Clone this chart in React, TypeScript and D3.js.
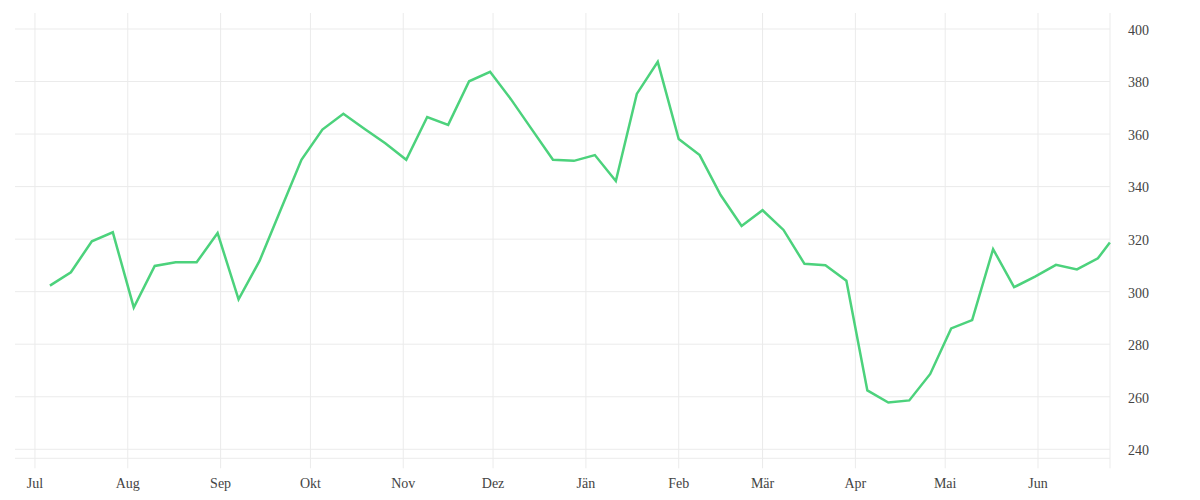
import React from "react";
import * as d3 from "d3";

// weekly closing values, Jul 2018 - Jun 2019
const dates = [
  "2018-07-06", "2018-07-13", "2018-07-20", "2018-07-27", "2018-08-03", "2018-08-10",
  "2018-08-17", "2018-08-24", "2018-08-31", "2018-09-07", "2018-09-14", "2018-09-21",
  "2018-09-28", "2018-10-05", "2018-10-12", "2018-10-19", "2018-10-26", "2018-11-02",
  "2018-11-09", "2018-11-16", "2018-11-23", "2018-11-30", "2018-12-07", "2018-12-14",
  "2018-12-21", "2018-12-28", "2019-01-04", "2019-01-11", "2019-01-18", "2019-01-25",
  "2019-02-01", "2019-02-08", "2019-02-15", "2019-02-22", "2019-03-01", "2019-03-08",
  "2019-03-15", "2019-03-22", "2019-03-29", "2019-04-05", "2019-04-12", "2019-04-19",
  "2019-04-26", "2019-05-03", "2019-05-10", "2019-05-17", "2019-05-24", "2019-05-31",
  "2019-06-07", "2019-06-14", "2019-06-21", "2019-06-25",
];

const prices = [
  302.3, 307.4, 319.2, 322.6, 294.0, 309.8, 311.2, 311.2, 322.3, 297.1, 311.7, 331.0,
  350.2, 361.7, 367.7, 362.0, 356.5, 350.2, 366.5, 363.5, 380.1, 383.7, 373.2, 361.7,
  350.2, 349.8, 352.0, 342.1, 375.3, 387.5, 358.1, 352.0, 336.8, 325.0, 331.0, 323.5,
  310.6, 310.1, 304.2, 262.4, 257.8, 258.6, 268.7, 286.0, 289.2, 316.2, 301.7, 305.7,
  310.2, 308.5, 312.7, 318.7,
];

const monthLabels = ["Jul", "Aug", "Sep", "Okt", "Nov", "Dez", "Jän", "Feb", "Mär", "Apr", "Mai", "Jun"];
const yTicks = [240, 260, 280, 300, 320, 340, 360, 380, 400];

const width = 1200;
const height = 500;
const left = 15;
const right = 1110;
const top = 13;
const bottom = 458.3;
const font = "'Liberation Serif', serif";

const App = () => {
  const parse = d3.timeParse("%Y-%m-%d");
  const data = dates.map((d, i) => ({ date: parse(d) as Date, value: prices[i] }));

  const x = d3
    .scaleTime()
    .domain([new Date(2018, 5, 24, 8), new Date(2019, 5, 25, 1)])
    .range([left, right]);

  const y = d3.scaleLinear().domain([236.57, 406.09]).range([bottom, top]);

  const months = d3.timeMonth.range(new Date(2018, 6, 1), new Date(2019, 6, 1));

  const line = d3
    .line<{ date: Date; value: number }>()
    .x((d) => x(d.date))
    .y((d) => y(d.value))
    .curve(d3.curveLinear);

  return (
    <svg
      width={width}
      height={height}
      style={{ position: "absolute", left: 0, top: 0, background: "#fff" }}
    >
      {/* horizontal grid */}
      {yTicks.map((t) => (
        <line key={t} x1={left} x2={right} y1={y(t)} y2={y(t)} stroke="#ebebeb" strokeWidth={1} />
      ))}
      <line x1={left} x2={right} y1={bottom} y2={bottom} stroke="#ebebeb" strokeWidth={1} />

      {/* vertical grid + ticks */}
      {months.map((m, i) => (
        <g key={i}>
          <line x1={x(m)} x2={x(m)} y1={top} y2={bottom + 10} stroke="#ebebeb" strokeWidth={1} />
          <text
            x={x(m)}
            y={488}
            textAnchor="middle"
            fontFamily={font}
            fontSize={14}
            fill="#444"
          >
            {monthLabels[i]}
          </text>
        </g>
      ))}
      <line x1={right} x2={right} y1={top} y2={bottom + 10} stroke="#ebebeb" strokeWidth={1} />

      {/* right axis labels */}
      {yTicks.map((t) => (
        <text
          key={t}
          x={right + 18}
          y={y(t)}
          dy="0.42em"
          fontFamily={font}
          fontSize={14}
          fill="#444"
        >
          {t}
        </text>
      ))}

      <path
        d={line(data) ?? ""}
        fill="none"
        stroke="#4cd27c"
        strokeWidth={2.5}
        strokeLinejoin="miter"
      />
    </svg>
  );
};

export default App;
